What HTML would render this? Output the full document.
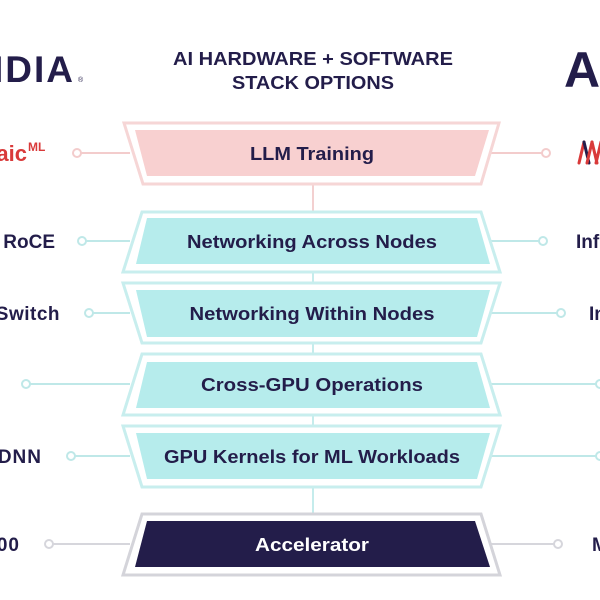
<!DOCTYPE html>
<html><head><style>
html,body{margin:0;padding:0;background:#fff;}
svg{display:block;}
text{font-family:"Liberation Sans",sans-serif;}
</style></head><body>
<svg width="600" height="600" viewBox="0 0 600 600" xmlns="http://www.w3.org/2000/svg">
<rect width="600" height="600" fill="#fff"/>
<!-- header -->
<text x="75" y="82" font-size="37" font-weight="bold" fill="#231d4a" text-anchor="end" letter-spacing="2">NVIDIA</text>
<text x="78" y="82" font-size="7" fill="#231d4a">®</text>
<text x="564" y="87" font-size="50" font-weight="bold" fill="#231d4a">AMD</text>
<text x="313" y="65" font-size="18" font-weight="bold" fill="#231d4a" text-anchor="middle" textLength="280" lengthAdjust="spacingAndGlyphs">AI HARDWARE + SOFTWARE</text>
<text x="313" y="89" font-size="18" font-weight="bold" fill="#231d4a" text-anchor="middle" textLength="162" lengthAdjust="spacingAndGlyphs">STACK OPTIONS</text>

<!-- vertical connectors -->
<g stroke="#c5ecec" stroke-width="2">
<line x1="313" y1="184" x2="313" y2="212" stroke="#f3d0d0"/>
<line x1="313" y1="272" x2="313" y2="283"/>
<line x1="313" y1="343" x2="313" y2="354"/>
<line x1="313" y1="415" x2="313" y2="426"/>
<line x1="313" y1="487" x2="313" y2="514"/>
</g>

<!-- side lines -->
<g stroke-width="2" fill="#fff">
<g stroke="#f3cccc"><line x1="81" y1="153" x2="130" y2="153"/><circle cx="77" cy="153" r="4"/>
<line x1="490" y1="153" x2="542" y2="153"/><circle cx="546" cy="153" r="4"/></g>
<g stroke="#bfe8e8"><line x1="86" y1="241" x2="130" y2="241"/><circle cx="82" cy="241" r="4"/>
<line x1="490" y1="241" x2="539" y2="241"/><circle cx="543" cy="241" r="4"/>
<line x1="93" y1="313" x2="130" y2="313"/><circle cx="89" cy="313" r="4"/>
<line x1="490" y1="313" x2="557" y2="313"/><circle cx="561" cy="313" r="4"/>
<line x1="30" y1="384" x2="130" y2="384"/><circle cx="26" cy="384" r="4"/>
<line x1="490" y1="384" x2="600" y2="384"/><circle cx="600" cy="384" r="4"/>
<line x1="75" y1="456" x2="130" y2="456"/><circle cx="71" cy="456" r="4"/>
<line x1="490" y1="456" x2="600" y2="456"/><circle cx="600" cy="456" r="4"/></g>
<g stroke="#d6d6dc"><line x1="53" y1="544" x2="130" y2="544"/><circle cx="49" cy="544" r="4"/>
<line x1="490" y1="544" x2="554" y2="544"/><circle cx="558" cy="544" r="4"/></g>
</g>

<!-- boxes -->
<g stroke-width="3">
<polygon points="124,123 499,123 481,184 143,184" fill="#fff" stroke="#f6d6d6"/>
<polygon points="135,130 489,130 475,176 147,176" fill="#f8d0d0" stroke="none"/>

<polygon points="142,212 481,212 500,272 123,272" fill="#fff" stroke="#c8eeee"/>
<polygon points="147,218 477,218 490,264 136,264" fill="#b6ecec" stroke="none"/>

<polygon points="123,283 500,283 481,343 142,343" fill="#fff" stroke="#c8eeee"/>
<polygon points="136,290 490,290 477,337 147,337" fill="#b6ecec" stroke="none"/>

<polygon points="142,354 481,354 500,415 123,415" fill="#fff" stroke="#c8eeee"/>
<polygon points="147,362 477,362 490,408 136,408" fill="#b6ecec" stroke="none"/>

<polygon points="123,426 500,426 481,487 142,487" fill="#fff" stroke="#c8eeee"/>
<polygon points="136,433 490,433 477,479 147,479" fill="#b6ecec" stroke="none"/>

<polygon points="142,514 481,514 500,575 123,575" fill="#fff" stroke="#d4d4da"/>
<polygon points="147,521 475,521 490,567 135,567" fill="#231d4a" stroke="none"/>
</g>

<!-- box labels -->
<g font-size="18" font-weight="bold" fill="#231d4a" text-anchor="middle">
<text x="312" y="160" textLength="124" lengthAdjust="spacingAndGlyphs">LLM Training</text>
<text x="312" y="248" textLength="250" lengthAdjust="spacingAndGlyphs">Networking Across Nodes</text>
<text x="312" y="320" textLength="245" lengthAdjust="spacingAndGlyphs">Networking Within Nodes</text>
<text x="312" y="391" textLength="222" lengthAdjust="spacingAndGlyphs">Cross-GPU Operations</text>
<text x="312" y="463" textLength="296" lengthAdjust="spacingAndGlyphs">GPU Kernels for ML Workloads</text>
<text x="312" y="551" textLength="114" lengthAdjust="spacingAndGlyphs" fill="#ffffff">Accelerator</text>
</g>

<!-- side labels -->
<g font-size="19" font-weight="bold" fill="#231d4a">
<text x="27" y="161" text-anchor="end" font-size="22" fill="#d93a3a">Mosaic</text>
<text x="28" y="151" font-size="12" fill="#d93a3a">ML</text>
<text x="55" y="248" text-anchor="end">RoCE</text>
<text x="60" y="320" text-anchor="end" letter-spacing="0.5">NVSwitch</text>
<text x="-4" y="391" text-anchor="end">NCCL</text>
<text x="42" y="463" text-anchor="end" letter-spacing="1">cuDNN</text>
<text x="20" y="551" text-anchor="end" letter-spacing="1">H100</text>
<text x="576" y="248">InfiniBand</text>
<text x="589" y="320">Infinity</text>
<text x="605" y="391">RCCL</text>
<text x="605" y="463">ROCm</text>
<text x="592" y="551">MI300X</text>
</g>
<!-- right red logo -->
<g stroke-width="3" fill="none" stroke-linecap="round">
<line x1="579" y1="163" x2="584" y2="142" stroke="#d93a3a"/>
<line x1="584" y1="142" x2="589" y2="163" stroke="#231d4a"/>
<line x1="587" y1="163" x2="592" y2="142" stroke="#d93a3a"/>
<line x1="592" y1="142" x2="597" y2="163" stroke="#d93a3a"/>
<line x1="596" y1="163" x2="601" y2="142" stroke="#d93a3a"/>
</g>
</svg>
</body></html>
